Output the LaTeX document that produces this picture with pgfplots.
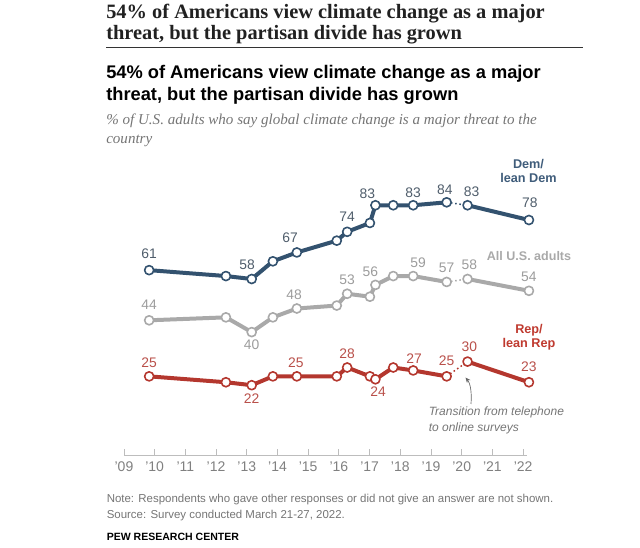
\documentclass[border=0pt]{standalone}
\usepackage{fontspec}
\setmainfont{Liberation Sans}
\newfontfamily\seriffont{Liberation Serif}
\usepackage{pgfplots}
\pgfplotsset{compat=1.18}
\usetikzlibrary{arrows.meta}
\definecolor{demc}{HTML}{33526F}
\definecolor{demt}{HTML}{4F5D6B}
\definecolor{demn}{HTML}{3F5C7A}
\definecolor{allc}{HTML}{A9A9A9}
\definecolor{allt}{HTML}{9C9C9C}
\definecolor{repc}{HTML}{B4372E}
\definecolor{rept}{HTML}{B9504A}
\definecolor{repn}{HTML}{BF3A2F}
\definecolor{axc}{HTML}{BDBDBD}
\definecolor{tickt}{HTML}{808080}
\definecolor{notet}{HTML}{757575}
\tikzset{
  lab/.style={font=\fontsize{10.4pt}{12pt}\selectfont, inner sep=0pt, anchor=center},
  ser/.style={line width=3pt, line join=round, mark=*, mark size=3.4pt, mark options={fill=white, draw=#1, line width=1.2pt, solid}, #1},
  gap/.style={#1, line width=1.1pt, dash pattern=on 1.2pt off 2pt},
}
\begin{document}
\begin{tikzpicture}
\path[use as bounding box] (0,0) rectangle (480pt,-411pt);
\begin{scope}[x=0.75pt,y=-0.75pt]
 % top serif title
 \node[anchor=base west, inner sep=0pt, text={black!87}, font=\seriffont\bfseries\fontsize{15.3pt}{17pt}\selectfont] at (106,18.3) {54\% of Americans view climate change as a major};
 \node[anchor=base west, inner sep=0pt, text={black!87}, font=\seriffont\bfseries\fontsize{15.3pt}{17pt}\selectfont] at (106,39.8) {threat, but the partisan divide has grown};
 \draw[black!80, line width=0.9pt] (106,47.3) -- (583.3,47.3);
 % sans title
 \node[anchor=base west, inner sep=0pt, text=black, font=\bfseries\fontsize{13.7pt}{16pt}\selectfont] at (106,78.5) {54\% of Americans view climate change as a major};
 \node[anchor=base west, inner sep=0pt, text=black, font=\bfseries\fontsize{13.7pt}{16pt}\selectfont] at (106,100.7) {threat, but the partisan divide has grown};
 % subtitle
 \node[anchor=base west, inner sep=0pt, text=notet, font=\seriffont\itshape\fontsize{11.3pt}{13pt}\selectfont] at (106,125) {\% of U.S. adults who say global climate change is a major threat to the};
 \node[anchor=base west, inner sep=0pt, text=notet, font=\seriffont\itshape\fontsize{11.3pt}{13pt}\selectfont] at (106,143.3) {country};
 % series names
 \node[anchor=base, inner sep=0pt, text=demn, font=\bfseries\fontsize{9.5pt}{11pt}\selectfont] at (528.5,168.5) {Dem/};
 \node[anchor=base, inner sep=0pt, text=demn, font=\bfseries\fontsize{9.5pt}{11pt}\selectfont] at (528.5,183) {lean Dem};
 \node[anchor=base, inner sep=0pt, text=allc, font=\bfseries\fontsize{9.4pt}{11pt}\selectfont] at (529,260.5) {All U.S. adults};
 \node[anchor=base, inner sep=0pt, text=repn, font=\bfseries\fontsize{9.5pt}{11pt}\selectfont] at (529,333.5) {Rep/};
 \node[anchor=base, inner sep=0pt, text=repn, font=\bfseries\fontsize{9.5pt}{11pt}\selectfont] at (529,348) {lean Rep};
 % annotation
 \node[anchor=base west, inner sep=0pt, text=notet, font=\itshape\fontsize{9pt}{10pt}\selectfont] at (428.5,416) {Transition from telephone};
 \node[anchor=base west, inner sep=0pt, text=notet, font=\itshape\fontsize{9pt}{10pt}\selectfont] at (428.5,431.5) {to online surveys};
 \draw[-{Stealth[length=4pt,width=3.5pt]}, black!60, line width=0.5pt] (471,404) .. controls (472,391) and (470,383) .. (465.5,377.5);
 % notes
 \node[anchor=base west, inner sep=0pt, text=notet, font=\fontsize{8.6pt}{10pt}\selectfont] at (106.5,503) {Note: Respondents who gave other responses or did not give an answer are not shown.};
 \node[anchor=base west, inner sep=0pt, text=notet, font=\fontsize{8.6pt}{10pt}\selectfont] at (106.5,518.3) {Source: Survey conducted March 21-27, 2022.};
 \node[anchor=base west, inner sep=0pt, text=black, font=\bfseries\fontsize{7.9pt}{10pt}\selectfont] at (106.5,541) {PEW RESEARCH CENTER};
\end{scope}
\begin{axis}[
  at={(83.775pt,-342pt)}, anchor=south west,
  scale only axis, width=345.4pt, height=203.55pt,
  xmin=2008.6, xmax=2023.6, ymin=-2, ymax=90,
  axis line style={draw=none},
  ytick=\empty,
  xtick={2009,2010,2011,2012,2013,2014,2015,2016,2017,2018,2019,2020,2021,2022},
  xticklabels={'09,'10,'11,'12,'13,'14,'15,'16,'17,'18,'19,'20,'21,'22},
  xtick pos=left, tick align=inside, major tick length=5pt,
  tick style={axc, line width=0.6pt},
  xticklabel style={font=\fontsize{10.5pt}{12pt}\selectfont, text=tickt, anchor=base, yshift=-11.4pt},
  clip=false,
]
\draw[axc, line width=0.75pt] (axis cs:2009,-2) -- (axis cs:2022.13,-2);
% All adults
\addplot[gap=allc, mark=none, forget plot] coordinates {(2019.51,57)(2020.19,58)};
\addplot[ser=allc] coordinates {(2009.82,44)(2012.32,45)(2013.16,40)(2013.85,45)(2014.63,48)(2015.93,49)(2016.27,53)(2017.01,52)(2017.19,56)(2017.77,59)(2018.42,59)(2019.51,57)};
\addplot[ser=allc] coordinates {(2020.19,58)(2022.19,54)};
% Rep
\addplot[gap=repc, mark=none, forget plot] coordinates {(2019.51,25)(2020.19,30)};
\addplot[ser=repc] coordinates {(2009.82,25)(2012.32,23)(2013.16,22)(2013.85,25)(2014.63,25)(2015.93,25)(2016.27,28)(2017.01,25)(2017.19,24)(2017.77,28)(2018.42,27)(2019.51,25)};
\addplot[ser=repc] coordinates {(2020.19,30)(2022.19,23)};
% Dem
\addplot[gap=demc, mark=none, forget plot] coordinates {(2019.51,84)(2020.19,83)};
\addplot[ser=demc] coordinates {(2009.82,61)(2012.32,59)(2013.16,58)(2013.85,64)(2014.63,67)(2015.93,71)(2016.27,74)(2017.01,77)(2017.19,83)(2017.77,83)(2018.42,83)(2019.51,84)};
\addplot[ser=demc] coordinates {(2020.19,83)(2022.19,78)};
% Dem labels
\node[lab, text=demt, yshift=12pt] at (axis cs:2009.82,61) {61};
\node[lab, text=demt, xshift=-3.45pt, yshift=11pt] at (axis cs:2013.16,58) {58};
\node[lab, text=demt, xshift=-5pt, yshift=11.25pt] at (axis cs:2014.63,67) {67};
\node[lab, text=demt, yshift=11.5pt] at (axis cs:2016.27,74) {74};
\node[lab, text=demt, xshift=-6pt, yshift=8.6pt] at (axis cs:2017.19,83) {83};
\node[lab, text=demt, yshift=9.5pt] at (axis cs:2018.42,83) {83};
\node[lab, text=demt, xshift=-1.3pt, yshift=9.2pt] at (axis cs:2019.51,84) {84};
\node[lab, text=demt, xshift=3pt, yshift=10.2pt] at (axis cs:2020.19,83) {83};
\node[lab, text=demt, xshift=0.75pt, yshift=13.2pt] at (axis cs:2022.19,78) {78};
% All labels
\node[lab, text=allt, yshift=11.8pt] at (axis cs:2009.82,44) {44};
\node[lab, text=allt, yshift=-9.5pt] at (axis cs:2013.16,40) {40};
\node[lab, text=allt, xshift=-2pt, yshift=10.3pt] at (axis cs:2014.63,48) {48};
\node[lab, text=allt, yshift=10.3pt] at (axis cs:2016.27,53) {53};
\node[lab, text=allt, xshift=-3.75pt, yshift=9.75pt] at (axis cs:2017.19,56) {56};
\node[lab, text=allt, xshift=3.75pt, yshift=10pt] at (axis cs:2018.42,59) {59};
\node[lab, text=allt, yshift=10.5pt] at (axis cs:2019.51,57) {57};
\node[lab, text=allt, xshift=1.3pt, yshift=11pt] at (axis cs:2020.19,58) {58};
\node[lab, text=allt, yshift=10.7pt] at (axis cs:2022.19,54) {54};
% Rep labels
\node[lab, text=rept, yshift=10.3pt] at (axis cs:2009.82,25) {25};
\node[lab, text=rept, yshift=-9.9pt] at (axis cs:2013.16,22) {22};
\node[lab, text=rept, xshift=-0.75pt, yshift=10.2pt] at (axis cs:2014.63,25) {25};
\node[lab, text=rept, yshift=10pt] at (axis cs:2016.27,28) {28};
\node[lab, text=rept, xshift=2pt, yshift=-9.6pt] at (axis cs:2017.19,24) {24};
\node[lab, text=rept, xshift=0.75pt, yshift=9.2pt] at (axis cs:2018.42,27) {27};
\node[lab, text=rept, yshift=11.8pt] at (axis cs:2019.51,25) {25};
\node[lab, text=rept, xshift=1.3pt, yshift=10.8pt] at (axis cs:2020.19,30) {30};
\node[lab, text=rept, yshift=11.8pt] at (axis cs:2022.19,23) {23};
\end{axis}
\end{tikzpicture}
\end{document}
